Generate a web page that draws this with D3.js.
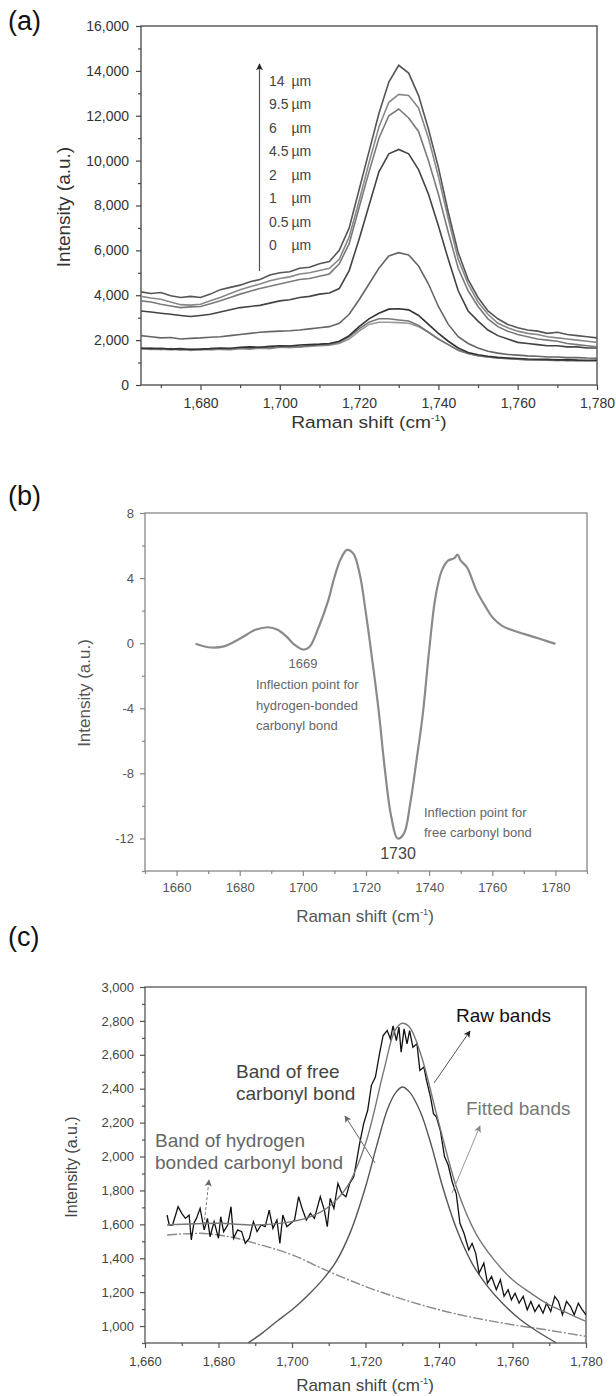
<!DOCTYPE html>
<html>
<head>
<meta charset="utf-8">
<script src="https://cdn.jsdelivr.net/npm/d3@7"></script>
<style>
body { margin: 0; background: #fff; }
svg { display: block; font-family: "Liberation Sans", Arial, sans-serif; }
</style>
</head>
<body>
<svg width="616" height="1396"></svg>
<script>
// ---- (a) spectra at different depths ----
var depthLabels = ["14", "9.5", "6", "4.5", "2", "1", "0.5", "0"];
var depthColors = ["#555", "#888", "#7a7a7a", "#444", "#666", "#333", "#777", "#999"];
var shiftA = d3.range(1665, 1780.1, 2.5);

var depth14 = [4150, 4080, 4120, 3980, 3900, 3950, 3900, 4050, 4250, 4350,
  4450, 4600, 4700, 4900, 5000, 5050, 5200, 5250, 5400, 5500,
  6000, 7000, 8700, 10400, 12100, 13500, 14250, 13900, 12900, 11400,
  9700, 7700, 5900, 4700, 3900, 3300, 2950, 2700, 2550, 2450,
  2400, 2300, 2350, 2250, 2200, 2150, 2100];
var depth9_5 = [3950, 3880, 3820, 3700, 3580, 3560, 3600, 3750, 3900, 4080,
  4250, 4380, 4500, 4650, 4750, 4820, 4950, 5000, 5100, 5200,
  5600, 6600, 8200, 9900, 11500, 12600, 12950, 12900, 12350, 11000,
  9300, 7400, 5600, 4500, 3700, 3150, 2750, 2550, 2400, 2300,
  2250, 2150, 2100, 2050, 2000, 1950, 1900];
var depth6 = [3750, 3700, 3600, 3520, 3450, 3480, 3500, 3620, 3750, 3900,
  4050, 4180, 4300, 4400, 4500, 4600, 4700, 4750, 4850, 4950,
  5400, 6300, 7900, 9500, 11000, 12000, 12300, 11900, 11300, 10000,
  8500, 6800, 5200, 4200, 3500, 2950, 2600, 2400, 2250, 2150,
  2050, 2000, 1950, 1850, 1800, 1750, 1700];
var depth4_5 = [3300, 3250, 3200, 3150, 3100, 3050, 3100, 3150, 3250, 3350,
  3450, 3500, 3550, 3650, 3750, 3800, 3900, 3950, 4050, 4100,
  4300, 5100, 6500, 8000, 9500, 10300, 10500, 10300, 9600, 8500,
  7100, 5600, 4200, 3300, 2850, 2450, 2200, 2050, 1900, 1850,
  1800, 1750, 1750, 1700, 1700, 1650, 1650];
var depth2 = [2200, 2150, 2100, 2120, 2050, 2080, 2100, 2130, 2150, 2200,
  2250, 2300, 2350, 2380, 2400, 2420, 2450, 2500, 2550, 2600,
  2750, 3150, 3800, 4500, 5200, 5750, 5900, 5800, 5300, 4500,
  3500, 2700, 2150, 1850, 1650, 1500, 1420, 1360, 1330, 1300,
  1280, 1250, 1250, 1220, 1220, 1200, 1190];
var depth1 = [1650, 1620, 1640, 1600, 1620, 1580, 1600, 1620, 1650, 1640,
  1680, 1700, 1680, 1720, 1750, 1740, 1780, 1800, 1820, 1850,
  1950, 2200, 2600, 2950, 3200, 3380, 3400, 3350, 3100, 2700,
  2300, 1950, 1650, 1450, 1350, 1280, 1230, 1200, 1180, 1160,
  1150, 1140, 1120, 1130, 1110, 1100, 1100];
var depth0_5 = [1600, 1650, 1580, 1620, 1560, 1600, 1570, 1620, 1600, 1580,
  1650, 1620, 1680, 1650, 1700, 1720, 1700, 1760, 1780, 1800,
  1900, 2150, 2500, 2800, 2950, 2950, 2900, 2850, 2650, 2350,
  2050, 1800, 1550, 1400, 1300, 1250, 1200, 1180, 1150, 1130,
  1120, 1100, 1130, 1080, 1100, 1080, 1090];
var depth0 = [1620, 1580, 1600, 1560, 1590, 1540, 1580, 1560, 1600, 1570,
  1620, 1600, 1640, 1620, 1680, 1660, 1700, 1720, 1750, 1770,
  1850, 2050, 2400, 2700, 2800, 2800, 2780, 2750, 2600, 2350,
  2050, 1800, 1550, 1400, 1300, 1250, 1200, 1170, 1150, 1120,
  1100, 1100, 1080, 1100, 1070, 1080, 1060];
var depthSeries = [depth14, depth9_5, depth6, depth4_5, depth2, depth1, depth0_5, depth0];

// ---- (b) second derivative ----
var shiftB = [1666, 1670, 1675, 1680, 1685, 1689, 1692, 1695, 1697, 1700,
  1702, 1705, 1708, 1710, 1712, 1714, 1716, 1718, 1720, 1722,
  1724, 1726, 1728, 1730, 1732, 1734, 1736, 1738, 1740, 1742,
  1744, 1746, 1748, 1749, 1750, 1752, 1755, 1758, 1760, 1763,
  1766, 1770, 1775, 1780];
var derivB = [-0.04, -0.25, -0.2, 0.27, 0.82, 0.98, 0.82, 0.37, -0.04, -0.39,
  -0.25, 0.98, 2.6, 4.05, 5.17, 5.73, 5.5, 4.25, 1.8, -1.06,
  -4.13, -7.8, -10.67, -12.0, -11.7, -9.86, -7.2, -4.34, -0.45, 2.82,
  4.46, 5.07, 5.23, 5.44, 5.07, 4.66, 3.23, 2.2, 1.6, 1.08,
  0.82, 0.57, 0.27, -0.04];

// ---- (c) band fitting ----
var rawShift = [1666, 1666.6, 1667.5, 1669, 1670, 1671, 1672, 1672.6, 1673.3, 1674,
  1675, 1676.1, 1677, 1677.7, 1678.8, 1680, 1680.6, 1681.4, 1682.5, 1683.4,
  1684.1, 1685.2, 1686.3, 1687.3, 1688.4, 1689.5, 1690.5, 1691.6, 1692.7, 1693.8,
  1694.8, 1695.9, 1696.7, 1697.5, 1698.6, 1699.7, 1700.7, 1701.8, 1702.9, 1703.9,
  1705, 1706.1, 1707.7, 1708.8, 1709.6, 1710.4, 1711.4, 1712.5, 1713.6, 1714.7,
  1715.7, 1716.8, 1717.3, 1718.4, 1719.5, 1720.6, 1721.6, 1722.7, 1723.8, 1724.8,
  1725.9, 1726.8, 1727.5, 1728.4, 1729.1, 1729.7, 1730.5, 1731.3, 1732, 1732.9,
  1734, 1734.8, 1735.9, 1736.6, 1737.7, 1738.5, 1739.3, 1740.4, 1741.5, 1742.5,
  1743.6, 1744.7, 1745.7, 1746.8, 1748.1, 1749, 1750, 1750.9, 1752.2, 1753.2,
  1754.3, 1755.6, 1756.7, 1757.7, 1758.8, 1759.7, 1760.7, 1761.8, 1762.9, 1764,
  1765, 1766.1, 1767.2, 1768.3, 1769.3, 1770.4, 1771.5, 1772.5, 1773.6, 1774.7,
  1775.8, 1776.8, 1777.9, 1779, 1780];
var rawIntensity = [1655, 1596, 1596, 1704, 1665, 1635, 1655, 1508, 1606, 1635,
  1694, 1567, 1635, 1527, 1616, 1518, 1645, 1557, 1596, 1704,
  1518, 1567, 1557, 1488, 1518, 1616, 1557, 1596, 1586, 1684,
  1576, 1626, 1488, 1655, 1586, 1606, 1626, 1763, 1684, 1626,
  1665, 1635, 1763, 1684, 1586, 1753, 1694, 1841, 1782, 1763,
  1841, 1880, 1939, 2076, 2194, 2273, 2420, 2469, 2606, 2714,
  2743, 2694, 2771, 2684, 2763, 2616, 2753, 2665, 2743, 2645,
  2665, 2508, 2528, 2449, 2351, 2253, 2233, 2150, 2000, 1950,
  1850, 1780, 1606, 1547, 1449, 1488, 1429, 1312, 1371, 1253,
  1292, 1214, 1273, 1175, 1214, 1155, 1194, 1135, 1175, 1096,
  1145, 1086, 1125, 1076, 1135, 1086, 1175, 1145, 1066, 1145,
  1115, 1066, 1135, 1096, 1066];

var fitShift = [1666, 1680, 1690, 1700, 1705, 1710, 1715, 1720, 1725, 1728,
  1730, 1732, 1735, 1740, 1745, 1750, 1755, 1760, 1765, 1770, 1775, 1780];
var fitTotal = [1596, 1606, 1596, 1616, 1645, 1704, 1822, 2076, 2508, 2743,
  2786, 2763, 2606, 2194, 1802, 1547, 1390, 1273, 1194, 1125, 1076, 1027];

var freeShift = [1688, 1692, 1696, 1700, 1704, 1708, 1712, 1716, 1720, 1723,
  1726, 1728, 1730, 1732, 1735, 1738, 1741, 1745, 1749, 1753,
  1757, 1762, 1767, 1772];
var freeBand = [900, 960, 1030, 1096, 1175, 1265, 1380, 1560, 1820, 2060,
  2280, 2370, 2410, 2380, 2260, 2060, 1820, 1560, 1370, 1240,
  1140, 1040, 965, 900];

var hbShift = [1666, 1675, 1680, 1685, 1690, 1700, 1710, 1720, 1730, 1740, 1750, 1760, 1770, 1780];
var hbBand = [1537, 1547, 1537, 1518, 1488, 1420, 1322, 1233, 1159, 1096, 1047, 1008, 975, 939];

var svg = d3.select("svg");
var defs = svg.append("defs");

function arrowMarker(id, color) {
  defs.append("marker")
    .attr("id", id)
    .attr("viewBox", "0 0 10 10")
    .attr("refX", 9)
    .attr("refY", 5)
    .attr("markerWidth", 7)
    .attr("markerHeight", 7)
    .attr("markerUnits", "userSpaceOnUse")
    .attr("orient", "auto")
    .append("path")
    .attr("d", "M0,0 L10,5 L0,10 L2.5,5 z")
    .style("fill", color);
}
arrowMarker("arrowDark", "#222");
arrowMarker("arrowMid", "#666");
arrowMarker("arrowLight", "#888");

function zip(xs, ys) {
  return xs.map(function(v, i) { return [v, ys[i]]; }).filter(function(d) { return d[1] != null; });
}

// draws frame, ticks and titles, returns scales
function makePanel(p) {
  var x = d3.scaleLinear().domain(p.xDomain).range([p.left, p.right]);
  var y = d3.scaleLinear().domain(p.yDomain).range([p.bottom, p.top]);
  var g = svg.append("g");

  function styleAxis(sel) {
    sel.select(".domain").remove();
    sel.selectAll("line").attr("stroke", p.axisColor).attr("stroke-width", 1.2);
    sel.selectAll("text").attr("fill", p.textColor).style("font-size", p.tickFont + "px")
      .style("font-family", "'Liberation Sans', Arial, sans-serif");
  }

  g.append("g").attr("transform", "translate(0," + p.bottom + ")")
    .call(d3.axisBottom(x).tickValues(p.xMinor).tickSize(3).tickFormat(""))
    .call(styleAxis);
  g.append("g").attr("transform", "translate(0," + p.bottom + ")")
    .call(d3.axisBottom(x).tickValues(p.xMajor).tickSize(5).tickPadding(p.xPad).tickFormat(p.format))
    .call(styleAxis);
  g.append("g").attr("transform", "translate(" + p.left + ",0)")
    .call(d3.axisLeft(y).tickValues(p.yMinor).tickSize(3).tickFormat(""))
    .call(styleAxis);
  g.append("g").attr("transform", "translate(" + p.left + ",0)")
    .call(d3.axisLeft(y).tickValues(p.yMajor).tickSize(5).tickPadding(p.yPad).tickFormat(p.format))
    .call(styleAxis);

  g.append("rect")
    .attr("x", p.left).attr("y", p.top)
    .attr("width", p.right - p.left).attr("height", p.bottom - p.top)
    .attr("fill", "none").attr("stroke", p.axisColor).attr("stroke-width", 1.3);

  // x title, stretched a little sideways like the scanned original
  var xt = g.append("text")
    .attr("transform", "translate(" + p.xTitle[0] + "," + p.xTitle[1] + ") scale(" + (p.xStretch || 1) + ",1)")
    .attr("text-anchor", "middle")
    .attr("fill", p.textColor)
    .style("font-size", p.titleFont + "px");
  xt.append("tspan").text("Raman shift (cm");
  xt.append("tspan").attr("dy", -7).style("font-size", (p.titleFont * 0.55) + "px").text("-1");
  xt.append("tspan").attr("dy", 7).text(")");

  g.append("text")
    .attr("transform", "translate(" + p.yTitle[0] + "," + p.yTitle[1] + ") rotate(-90)")
    .attr("text-anchor", "middle")
    .attr("dy", "0.35em")
    .attr("fill", p.textColor)
    .style("font-size", p.yTitleFont + "px")
    .text("Intensity (a.u.)");

  svg.append("text")
    .attr("x", 8).attr("y", p.labelY)
    .attr("fill", "#111")
    .style("font-size", "27px")
    .text(p.label);

  var clipId = "clip" + p.label.replace(/\W/g, "");
  defs.append("clipPath").attr("id", clipId)
    .append("rect")
    .attr("x", p.left).attr("y", p.top)
    .attr("width", p.right - p.left).attr("height", p.bottom - p.top);
  var plot = svg.append("g").attr("clip-path", "url(#" + clipId + ")");

  return { x: x, y: y, plot: plot };
}

// ---------------- panel (a) ----------------
var a = makePanel({
  label: "(a)", labelY: 30,
  left: 141, right: 597, top: 26, bottom: 385,
  xDomain: [1665, 1780], yDomain: [0, 16000],
  xMajor: d3.range(1680, 1781, 20), xMinor: d3.range(1670, 1781, 20),
  yMajor: d3.range(0, 16001, 2000), yMinor: d3.range(1000, 16000, 2000),
  format: d3.format(","), xPad: 8, yPad: 7,
  axisColor: "#444", textColor: "#333", tickFont: 14, titleFont: 17, yTitleFont: 19,
  xStretch: 1.13, xTitle: [369, 428], yTitle: [63, 207]
});

var lineA = d3.line()
  .x(function(d) { return a.x(d[0]); })
  .y(function(d) { return a.y(d[1]); });

a.plot.selectAll(".depth")
  .data(depthSeries.slice().reverse())
  .enter().append("path")
  .attr("class", "depth")
  .attr("fill", "none")
  .attr("stroke", function(d, i) { return depthColors[depthColors.length - 1 - i]; })
  .attr("stroke-width", 1.6)
  .attr("d", function(d) { return lineA(zip(shiftA, d)); });

svg.append("line")
  .attr("x1", 259.5).attr("y1", 271)
  .attr("x2", 259.5).attr("y2", 64)
  .attr("stroke", "#555").attr("stroke-width", 1.2)
  .attr("marker-end", "url(#arrowDark)");

var legend = svg.append("g").style("font-size", "14px").attr("fill", "#444");
legend.selectAll(".num")
  .data(depthLabels)
  .enter().append("text")
  .attr("x", 269)
  .attr("y", function(d, i) { return 80.7 + i * 23.5; })
  .attr("dy", "0.35em")
  .text(function(d) { return d; });
legend.selectAll(".unit")
  .data(depthLabels)
  .enter().append("text")
  .attr("x", 291.5)
  .attr("y", function(d, i) { return 80.7 + i * 23.5; })
  .attr("dy", "0.35em")
  .text("µm");

// ---------------- panel (b) ----------------
var b = makePanel({
  label: "(b)", labelY: 505,
  left: 145, right: 587, top: 513, bottom: 871,
  xDomain: [1650, 1790], yDomain: [-14, 8],
  xMajor: d3.range(1660, 1781, 20), xMinor: d3.range(1650, 1791, 20),
  yMajor: d3.range(-12, 9, 4), yMinor: d3.range(-14, 8, 4),
  format: function(d) { return String(d); }, xPad: 7, yPad: 6,
  axisColor: "#888", textColor: "#555", tickFont: 13, titleFont: 17, yTitleFont: 17,
  xTitle: [365, 922], yTitle: [84, 693]
});

b.plot.append("path")
  .attr("fill", "none")
  .attr("stroke", "#8a8a8a")
  .attr("stroke-width", 2.2)
  .attr("d", d3.line()
    .curve(d3.curveCatmullRom)
    .x(function(d) { return b.x(d[0]); })
    .y(function(d) { return b.y(d[1]); })(zip(shiftB, derivB)));

var noteB = svg.append("g").attr("fill", "#666").style("font-size", "13px");
noteB.append("text").attr("x", 303).attr("y", 668).attr("text-anchor", "middle").text("1669");
["Inflection point for", "hydrogen-bonded", "carbonyl bond"].forEach(function(t, i) {
  noteB.append("text").attr("x", 256).attr("y", 689 + i * 20.5).text(t);
});
["Inflection point for", "free carbonyl bond"].forEach(function(t, i) {
  noteB.append("text").attr("x", 424).attr("y", 817 + i * 20).text(t);
});
svg.append("text").attr("x", 398).attr("y", 859)
  .attr("text-anchor", "middle").attr("fill", "#444")
  .style("font-size", "16px").text("1730");

// ---------------- panel (c) ----------------
var c = makePanel({
  label: "(c)", labelY: 946,
  left: 145, right: 586, top: 987, bottom: 1343,
  xDomain: [1660, 1780], yDomain: [900, 3000],
  xMajor: d3.range(1660, 1781, 20), xMinor: d3.range(1670, 1781, 20),
  yMajor: d3.range(1000, 3001, 200), yMinor: d3.range(900, 3000, 200),
  format: d3.format(","), xPad: 9, yPad: 6,
  axisColor: "#555", textColor: "#444", tickFont: 13, titleFont: 17, yTitleFont: 16,
  xTitle: [365, 1391], yTitle: [71, 1167]
});

function lineC(curve) {
  return d3.line()
    .curve(curve)
    .x(function(d) { return c.x(d[0]); })
    .y(function(d) { return c.y(d[1]); });
}

c.plot.append("path")
  .attr("fill", "none").attr("stroke", "#8a8a8a").attr("stroke-width", 1.4)
  .attr("stroke-dasharray", "10,2,2,2")
  .attr("d", lineC(d3.curveMonotoneX)(zip(hbShift, hbBand)));
c.plot.append("path")
  .attr("fill", "none").attr("stroke", "#555").attr("stroke-width", 1.4)
  .attr("d", lineC(d3.curveCatmullRom)(zip(freeShift, freeBand)));
c.plot.append("path")
  .attr("fill", "none").attr("stroke", "#111").attr("stroke-width", 1.3)
  .attr("d", lineC(d3.curveLinear)(zip(rawShift, rawIntensity)));
c.plot.append("path")
  .attr("fill", "none").attr("stroke", "#777").attr("stroke-width", 1.4)
  .attr("d", lineC(d3.curveCatmullRom)(zip(fitShift, fitTotal)));

var noteC = svg.append("g").style("font-size", "19px");
noteC.append("text").attr("x", 456).attr("y", 1022).attr("fill", "#111").text("Raw bands");
noteC.append("text").attr("x", 236).attr("y", 1078).attr("fill", "#444").text("Band of free");
noteC.append("text").attr("x", 236).attr("y", 1100).attr("fill", "#444").text("carbonyl bond");
noteC.append("text").attr("x", 466).attr("y", 1115).attr("fill", "#777").text("Fitted bands");
noteC.append("text").attr("x", 155).attr("y", 1147).attr("fill", "#666").text("Band of hydrogen");
noteC.append("text").attr("x", 155).attr("y", 1169).attr("fill", "#666").text("bonded carbonyl bond");

function pointer(x1, y1, x2, y2, color, marker, dash) {
  svg.append("line")
    .attr("x1", x1).attr("y1", y1).attr("x2", x2).attr("y2", y2)
    .attr("stroke", color).attr("stroke-width", 1)
    .attr("stroke-dasharray", dash || null)
    .attr("marker-end", "url(#" + marker + ")");
}
pointer(434, 1083, 470, 1031, "#555", "arrowDark");
pointer(375, 1163, 345, 1116, "#666", "arrowMid");
pointer(452, 1193, 480, 1126, "#999", "arrowLight");
pointer(204, 1225, 209, 1180, "#777", "arrowMid", "3,2");
</script>
</body>
</html>
